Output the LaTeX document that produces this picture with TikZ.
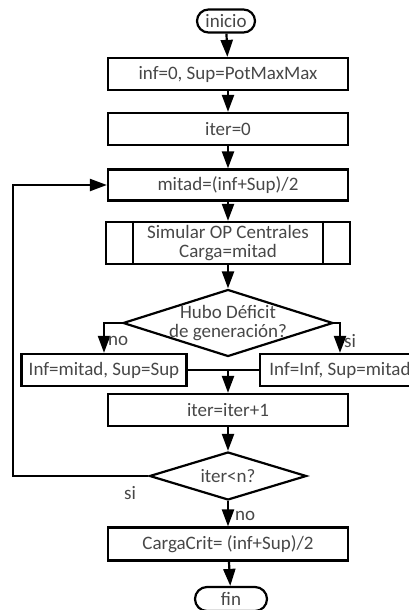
\documentclass[tikz,border=0pt]{standalone}
\usepackage{fontspec}
\setmainfont{Carlito}
\usetikzlibrary{shapes.geometric,shapes.misc,arrows.meta}

\begin{document}
\begin{tikzpicture}[x=1pt,y=-1pt,
  font=\fontsize{19}{19}\selectfont, text=black!72,
  box/.style={draw, line width=2.2pt, minimum width=240pt, minimum height=32pt, inner sep=0pt},
  term/.style={draw, line width=2.2pt, rounded rectangle, minimum height=23pt, inner sep=0pt},
  decision/.style={draw, line width=2.2pt, diamond, inner sep=0pt},
  flow/.style={line width=2.2pt, -{Triangle[length=17pt,width=12pt]}},
  link/.style={line width=2.2pt}]
%\draw[help lines, color=gray!30] (0,0) grid[step=50pt] (408,610);
\useasboundingbox (0,0) rectangle (408,610);
\node[term, minimum width=58pt] (start) at (226,21) {inicio};
\node[box] (init) at (228,74) {inf=0, Sup=PotMaxMax};
\node[box] (iterzero) at (228,129) {iter=0};
\node[box, minimum height=31pt] (mitad) at (228,185) {mitad=(inf+Sup)/2};
\node[box, minimum width=244pt, minimum height=42pt, align=center] (sim) at (228,243) {Simular OP Centrales\\Carga=mitad};
\draw[link] ([xshift=28pt]sim.north west) -- ([xshift=28pt]sim.south west);
\draw[link] ([xshift=-28pt]sim.north east) -- ([xshift=-28pt]sim.south east);
\node[decision, minimum width=210pt, minimum height=67pt] (deficit) at (228,323) {};
\node[align=center] (deficittext) at (deficit.center) {Hubo Déficit\\de generación?};
\node[box, minimum width=165pt] (left) at (104,370) {Inf=mitad, Sup=Sup};
\node[box, minimum width=160pt] (right) at (340,370) {Inf=Inf, Sup=mitad};
\node[box] (incr) at (228,410) {iter=iter+1};
\node[decision, minimum width=157pt, minimum height=48pt] (cond) at (228,476) {};
\node (condtext) at (cond.center) {iter<n?};
\node[box, minimum height=33pt] (result) at (228,544) {CargaCrit= (inf+Sup)/2};
\node[term, minimum width=72pt, minimum height=24pt] (stop) at (231,599) {fin};
\coordinate (merge) at (left.east -| incr.north);
\coordinate (loopcorner) at (13,476);
% connectors
\draw[flow] (start) -- (init);
\draw[flow] (init) -- (iterzero);
\draw[flow] (iterzero) -- (mitad);
\draw[flow] (mitad) -- (sim);
\draw[flow] (sim) -- (deficit);
\draw[flow] (deficit.west) -| node[pos=0.8, right, inner sep=3pt] (deficitno) {no} (left.north);
\draw[flow] (deficit.east) -| node[pos=0.8, right, inner sep=3pt] (deficitsi) {si} (right.north);
\draw[link] (left.east) -- (right.west);
\draw[flow] (merge) -- (incr);
\draw[flow] (incr) -- (cond);
\draw[flow] (cond.west) -- (loopcorner) |- (mitad.west);
\node (condsi) at (130,493) {si};
\draw[flow] (cond) -- node[pos=0.6, right, inner sep=6pt] (condno) {no} (result);
\draw[flow] (result) -- (stop);
\end{tikzpicture}
\end{document}
